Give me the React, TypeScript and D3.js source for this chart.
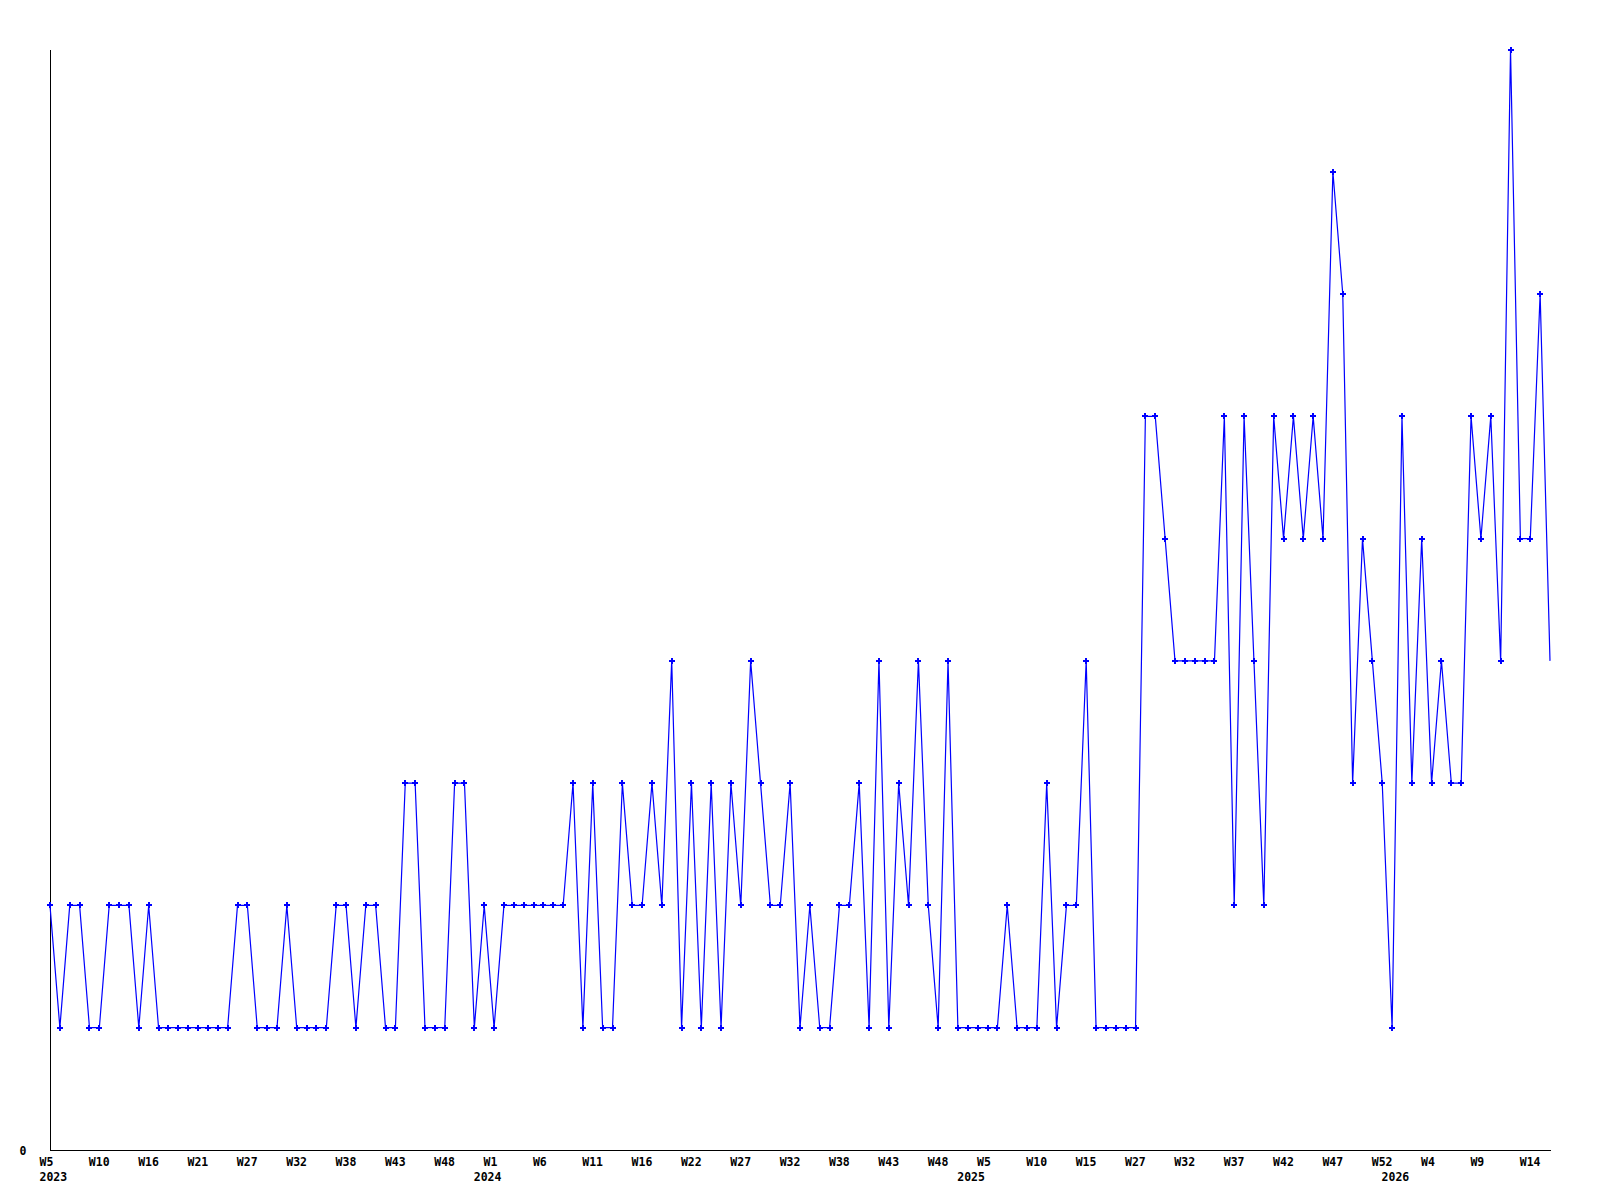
import React from "react";
import * as d3 from "d3";

// Weekly values (one per data point, ordinal x axis)
const values: number[] = [
  2, 1, 2, 2, 1, 1, 2, 2, 2, 1, 2, 1, 1, 1, 1, 1, 1, 1, 1, 2,
  2, 1, 1, 1, 2, 1, 1, 1, 1, 2, 2, 1, 2, 2, 1, 1, 3, 3, 1, 1,
  1, 3, 3, 1, 2, 1, 2, 2, 2, 2, 2, 2, 2, 3, 1, 3, 1, 1, 3, 2,
  2, 3, 2, 4, 1, 3, 1, 3, 1, 3, 2, 4, 3, 2, 2, 3, 1, 2, 1, 1,
  2, 2, 3, 1, 4, 1, 3, 2, 4, 2, 1, 4, 1, 1, 1, 1, 1, 2, 1, 1,
  1, 3, 1, 2, 2, 4, 1, 1, 1, 1, 1, 6, 6, 5, 4, 4, 4, 4, 4, 6,
  2, 6, 4, 2, 6, 5, 6, 5, 6, 5, 8, 7, 3, 5, 4, 3, 1, 6, 3, 5,
  3, 4, 3, 3, 6, 5, 6, 4, 9, 5, 5, 7, 4,
];

// Week labels shown every 5th point
const tickLabels: string[] = [
  "W5", "W10", "W16", "W21", "W27", "W32", "W38", "W43", "W48",
  "W1", "W6", "W11", "W16", "W22", "W27", "W32", "W38", "W43", "W48",
  "W5", "W10", "W15", "W27", "W32", "W37", "W42", "W47", "W52",
  "W4", "W9", "W14",
];
const tickEvery = 5;

// Year labels and the point index where each year starts
const yearTexts: string[] = ["2023", "2024", "2025", "2026"];
const yearStartIndex: number[] = [0, 44, 93, 136];

const yMax = 9;

export default function App() {
  const width = 1600;
  const height = 1200;
  const x0 = 50;
  const x1 = 1550;
  const yBottom = 1150;
  const yTop = 49.5;

  const idx = values.map((_, i) => i);
  const x = d3.scalePoint<number>().domain(idx).range([x0, x1]);
  const y = d3.scaleLinear().domain([0, yMax]).range([yBottom, yTop]);

  const line = d3
    .line<number>()
    .x((_, i) => x(i) as number)
    .y((d) => y(d));

  const font = "'DejaVu Sans Mono', monospace";
  const labelOffset = 10.5;

  return (
    <svg
      width={width}
      height={height}
      style={{ position: "absolute", left: 0, top: 0, background: "#fff" }}
    >
      <rect x={0} y={0} width={width} height={height} fill="#fff" />
      {/* axes */}
      <line x1={x0 + 0.5} x2={x0 + 0.5} y1={yTop} y2={yBottom} stroke="#000" strokeWidth={1} shapeRendering="crispEdges" />
      <line x1={x0} x2={x1 + 1} y1={yBottom + 0.5} y2={yBottom + 0.5} stroke="#000" strokeWidth={1} shapeRendering="crispEdges" />
      <text x={19.5} y={1154.5} fontFamily={font} fontWeight="bold" fontSize={11.5} fill="#000">
        0
      </text>
      {/* week labels */}
      {tickLabels.map((t, k) => (
        <text
          key={"t" + k}
          x={(x(k * tickEvery) as number) - labelOffset}
          y={1166}
          fontFamily={font}
          fontWeight="bold"
          fontSize={11.5}
          fill="#000"
        >
          {t}
        </text>
      ))}
      {/* year labels */}
      {yearTexts.map((t, k) => (
        <text
          key={"y" + k}
          x={(x(yearStartIndex[k]) as number) - labelOffset}
          y={1181}
          fontFamily={font}
          fontWeight="bold"
          fontSize={11.5}
          fill="#000"
        >
          {t}
        </text>
      ))}
      {/* series */}
      <path d={line(values) || ""} fill="none" stroke="#0000ff" strokeWidth={1.2} />
      {values.slice(0, values.length - 1).map((v, i) => {
        const cx = x(i) as number;
        const cy = y(v);
        return (
          <g key={"m" + i} fill="#0000ff" shapeRendering="crispEdges">
            <rect x={cx - 3} y={cy - 1} width={6} height={2} />
            <rect x={cx - 1} y={cy - 3} width={2} height={6} />
          </g>
        );
      })}
    </svg>
  );
}
